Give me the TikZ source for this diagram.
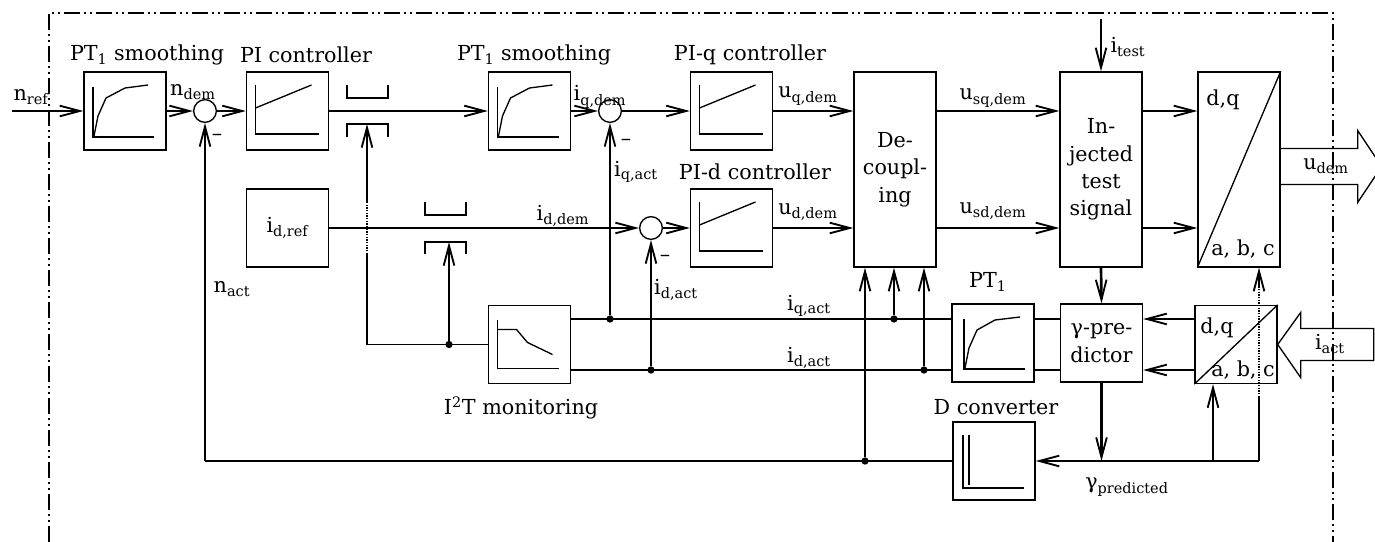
\documentclass[tikz,border=0pt]{standalone}
\usepackage{fontspec}
\setmainfont{DejaVu Serif}
\usetikzlibrary{arrows.meta}

\begin{document}
\begin{tikzpicture}[x=0.75pt,y=0.75pt,yscale=-1,xscale=1,
  font=\fontsize{15.5}{20.5}\selectfont,
  blk/.style={draw, line width=1pt, minimum width=61.5pt, minimum height=58.5pt, inner sep=0pt, align=center},
  tall/.style={blk, minimum height=146.25pt},
  sum/.style={draw, circle, line width=1pt, minimum size=17pt, inner sep=0pt},
  dot/.style={circle, fill, inner sep=0pt, minimum size=5.5pt},
  sig/.style={line width=2pt, -{Straight Barb[length=15pt,width=8pt,line width=1.4pt]}},
  dotsig/.style={line width=2pt, dash pattern=on 1pt off 1pt},
  thinline/.style={line width=1pt},
  curve/.style={line width=1pt},
  hollow/.style={line width=1pt, line join=miter},
  frame/.style={line width=1.3pt, dash pattern=on 12pt off 3pt on 1.5pt off 3pt on 1.5pt off 3pt},
  lbl/.style={inner sep=0.75pt}
]
\useasboundingbox (0,0) rectangle (1375,542);

%Frame
\draw[frame] (49,542) -- (49,13) -- (1333,13) -- (1333,542);

%Blocks
\node[blk] (pt1a) at (125,111) {};
\node[sum] (s1) at (205,111) {};
\node[blk] (pic) at (287.5,111) {};
\node[blk] (pt1b) at (529.5,111) {};
\node[sum] (s2) at (610,111) {};
\node[blk] (piq) at (731.5,111) {};
\node[tall] (dec) at (895,169.5) {De-\\coupl-\\ing};
\node[tall] (inj) at (1101,169.5) {In-\\jected\\test\\signal};
\node[tall] (dq1) at (1239,169.5) {};
\node[blk] (idref) at (287.5,228) {i\textsubscript{d,ref}};
\node[sum] (s3) at (651,228) {};
\node[blk] (pid) at (731.5,228) {};
\node[blk] (i2t) at (529.5,344.5) {};
\node[blk] (pt1c) at (993,343) {};
\node[blk] (gp) at (1101.5,343) {γ-pre-\\dictor};
\node[blk] (dq2) at (1236,344.5) {};
\node[blk] (dconv) at (994,461) {};

%Junctions
\node[dot] (j1) at (865,461) {};
\node[dot] (j2) at (894,319) {};
\node[dot] (j3) at (924,370) {};
\node[dot] (j4) at (610,319) {};
\node[dot] (j5) at (651,370) {};
\node[dot] (j6) at (449,344.5) {};

\coordinate (nin) at (12,111);
\coordinate (itest) at (1101,19);
\coordinate (fb) at (205,461);
\coordinate (ga) at (1259,461);
\coordinate (gb) at (1213,461);
\coordinate (gc) at (1259,397);
\coordinate (gd) at (1259,287);
\coordinate (sw1) at (367,344.5);
\coordinate (sw1a) at (367,254);
\coordinate (sw1b) at (367,202);
\coordinate (sw1c) at (367,124);
\coordinate (sw2c) at (449,242);

%Graphs inside the blocks
\draw[curve, shift={(pt1a.center)}] (-32,-24) -- (-32,26) -- (29,26);
\draw[curve, shift={(pt1a.center)}] (-31,25) -- (-27,5) -- (-19,-13) -- (0,-23) -- (23,-26);
\draw[curve, shift={(pt1b.center)}] (-32,-24) -- (-32,26) -- (29,26);
\draw[curve, shift={(pt1b.center)}] (-31,25) -- (-27,5) -- (-19,-13) -- (0,-23) -- (23,-26);
\draw[curve, shift={(pt1c.center)}] (-29,-24) -- (-29,26) -- (32,26);
\draw[curve, shift={(pt1c.center)}] (-28,25) -- (-24,5) -- (-16,-13) -- (2,-23) -- (27,-26);
\draw[curve, shift={(pic.center)}] (-32,-26) -- (-32,23) -- (31,23);
\draw[curve, shift={(pic.center)}] (-32,-3) -- (24,-26);
\draw[curve, shift={(piq.center)}] (-32,-26) -- (-32,23) -- (31,23);
\draw[curve, shift={(piq.center)}] (-32,-3) -- (24,-26);
\draw[curve, shift={(pid.center)}] (-32,-26) -- (-32,23) -- (31,23);
\draw[curve, shift={(pid.center)}] (-32,-3) -- (24,-26);
\draw[curve, shift={(i2t.center)}] (-32,-25) -- (-32,24) -- (29,24);
\draw[curve, shift={(i2t.center)}] (-32,-15) -- (-13,-15) -- (-2,-2) -- (23,10);
\draw[curve, shift={(dconv.center)}] (-31,-26) -- (-31,27) -- (30,27);
\draw[curve, shift={(dconv.center)}] (-25,-26) -- (-25,24);
\draw[curve] (dq1.south west) -- (dq1.north east);
\draw[curve] (dq2.south west) -- (dq2.north east);

%Switches
\draw[curve] (347,85) -- (347,98) -- (388,98) -- (388,85);
\draw[curve] (347,137) -- (347,124) -- (388,124) -- (388,137);
\draw[curve] (425,202) -- (425,215) -- (466,215) -- (466,202);
\draw[curve] (425,254) -- (425,242) -- (466,242) -- (466,254);

%Speed loop
\draw[sig] (nin) -- (pt1a.west);
\draw[sig] (pt1a.east) -- (s1.west);
\draw[sig] (s1.east) -- (pic.west);
\draw[sig] (pic.east) -- (pt1b.west);
\draw[sig] (pt1b.east) -- (s2.west);
\draw[sig] (s2.east) -- (piq.west);
\draw[sig] (piq.east) -- (piq.east -| dec.west);
\draw[thinline] (dconv.west) -- (fb);
\draw[sig] (fb) -- (s1.south);

%Current loops
\draw[sig] (idref.east) -- (s3.west);
\draw[sig] (s3.east) -- (pid.west);
\draw[sig] (pid.east) -- (pid.east -| dec.west);
\draw[sig] (dec.east |- piq.east) -- (inj.west |- piq.east);
\draw[sig] (dec.east |- pid.east) -- (inj.west |- pid.east);
\draw[sig] (inj.east |- piq.east) -- (dq1.west |- piq.east);
\draw[sig] (inj.east |- pid.east) -- (dq1.west |- pid.east);
\draw[sig] (itest) -- (inj.north);
\draw[sig] (inj.south) -- (gp.north);

%Actual currents
\draw[thinline] (i2t.east |- j4) -- (pt1c.west |- j4);
\draw[thinline] (i2t.east |- j5) -- (pt1c.west |- j5);
\draw[thinline] (pt1c.east |- j4) -- (gp.west |- j4);
\draw[thinline] (pt1c.east |- j5) -- (gp.west |- j5);
\draw[sig] (dq2.west |- j4) -- (gp.east |- j4);
\draw[sig] (dq2.west |- j5) -- (gp.east |- j5);
\draw[sig] (j4) -- (s2.south);
\draw[sig] (j5) -- (s3.south);
\draw[sig] (j1) -- (j1 |- dec.south);
\draw[sig] (j2) -- (j2 |- dec.south);
\draw[sig] (j3) -- (j3 |- dec.south);
\draw[thinline] (fb) -- (j1);

%Predicted angle
\draw[sig] (gp.south) -- (gp.south |- dconv.east);
\draw[sig] (ga) -- (dconv.east);
\draw[sig] (gb) -- (gb |- dq2.south);
\draw[thinline] (ga) -- (gc);
\draw[dotsig] (gc) -- (gd);
\draw[sig] (gd) -- (gd |- dq1.south);

%I2T switching
\draw[thinline] (i2t.west) -- (sw1) -- (sw1a);
\draw[dotsig] (sw1a) -- (sw1b);
\draw[sig] (sw1b) -- (sw1c);
\draw[sig] (j6) -- (sw2c);

%Hollow arrows
\draw[hollow] (dq1.east) ++(0,-21) -- ++(77,0) -- ++(0,-18) -- ++(24,36) -- ++(-24,36) -- ++(0,-18) -- ++(-77,0);
\draw[hollow] (dq2.east) -- ++(23,-32) -- ++(0,16) -- ++(73,0) -- ++(0,32) -- ++(-73,0) -- ++(0,17) -- cycle;

% Text Node
\node[lbl] (tpt1a) at (147,55) {PT\textsubscript{1} smoothing};
\node[lbl] (tpic) at (306,55) {PI controller};
\node[lbl] (tpt1b) at (534,55) {PT\textsubscript{1} smoothing};
\node[lbl] (tpiq) at (750,55) {PI-q controller};
\node[lbl] (tpid) at (755,172) {PI-d controller};
\node[lbl] (ti2t) at (521,408) {I\textsuperscript{2}T monitoring};
\node[lbl] (tpt1c) at (988,282) {PT\textsubscript{1}};
\node[lbl] (tdconv) at (996,407) {D converter};
\node[lbl] (tgp) at (1127,487) {γ\textsubscript{predicted}};
\node[lbl] (tnref) at (31,97) {n\textsubscript{ref}};
\node[lbl] (tndem) at (193,92) {n\textsubscript{dem}};
\node[lbl] (tnact) at (232,289) {n\textsubscript{act}};
\node[lbl] (tiqdem) at (600,97) {i\textsubscript{q,dem}};
\node[lbl] (tuqdem) at (808,96) {u\textsubscript{q,dem}};
\node[lbl] (tiqact) at (636,172) {i\textsubscript{q,act}};
\node[lbl] (tiddem) at (563,216) {i\textsubscript{d,dem}};
\node[lbl] (tuddem) at (808,212) {u\textsubscript{d,dem}};
\node[lbl] (tidact) at (676,290) {i\textsubscript{d,act}};
\node[lbl] (tiqbus) at (809,306) {i\textsubscript{q,act}};
\node[lbl] (tidbus) at (809,358) {i\textsubscript{d,act}};
\node[lbl] (tusq) at (993,98) {u\textsubscript{sq,dem}};
\node[lbl] (tusd) at (993,211) {u\textsubscript{sd,dem}};
\node[lbl] (titest) at (1128,47) {i\textsubscript{test}};
\node[lbl] (tudem) at (1326,166) {u\textsubscript{dem}};
\node[lbl] (tiact) at (1330,344) {i\textsubscript{act}};
\node[lbl] (tdq1) at (1223,100) {d,q};
\node[lbl] (tabc1) at (1243,249) {a, b, c};
\node[lbl] (tdq2) at (1217,328) {d,q};
\node[lbl] (tabc2) at (1243,370) {a, b, c};
\node[lbl] (tm1) at (217,137) {–};
\node[lbl] (tm2) at (626,142) {–};
\node[lbl] (tm3) at (665,258) {–};

\end{tikzpicture}
\end{document}
